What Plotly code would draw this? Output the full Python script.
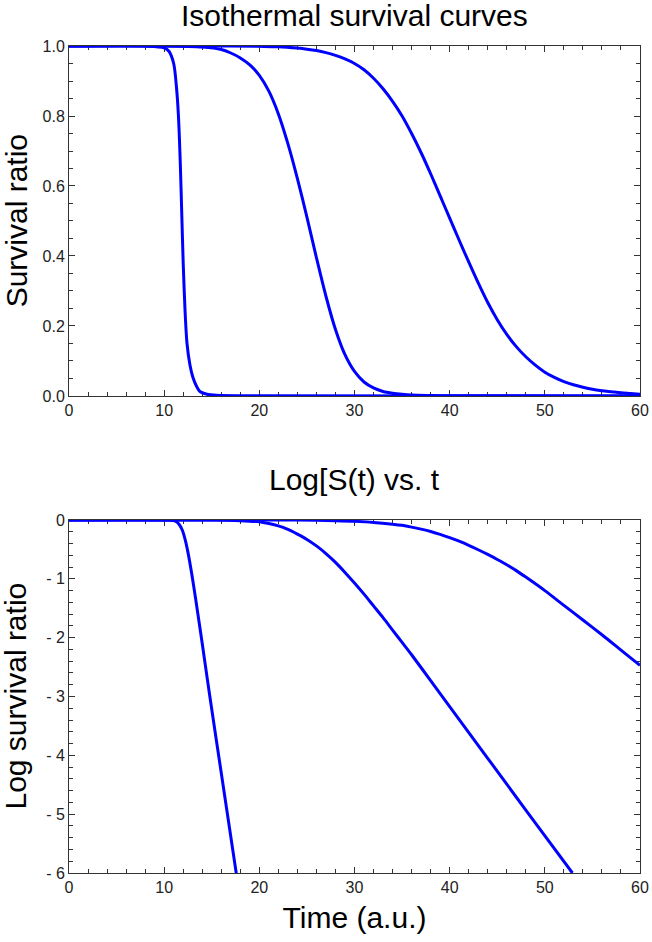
import plotly.graph_objects as go
from plotly.subplots import make_subplots

# survival ratio S(t)
t_fast = [0, 8, 10, 10.5, 11.0, 11.3, 11.5, 11.7, 11.85, 12.0, 12.2, 12.4, 12.7, 13.0, 13.4, 13.8, 14.5, 15.5, 20, 60]
s_fast = [1.0, 1.0, 0.995, 0.985, 0.95, 0.88, 0.80, 0.66, 0.52, 0.38, 0.24, 0.15, 0.09, 0.055, 0.028, 0.012, 0.005, 0.002, 0.0005, 0.0]

t_mid = [0, 10, 14, 16, 17, 18, 19, 20, 21, 22, 23, 24, 25, 26, 27, 28, 29, 30, 31, 32, 33, 34, 35, 36, 38, 40, 60]
s_mid = [1.0, 1.0, 0.997, 0.99, 0.98, 0.966, 0.946, 0.916, 0.871, 0.806, 0.721, 0.621, 0.511, 0.395, 0.285, 0.19, 0.118,
         0.07, 0.04, 0.023, 0.013, 0.008, 0.005, 0.003, 0.0015, 0.0005, 0.0]

t_slow = [0, 15, 20, 22, 24, 25, 26, 27, 28, 29, 30, 31, 32, 33, 34, 35, 36, 37, 38, 39, 40, 41, 42, 43, 44, 45,
          46, 47, 48, 49, 50, 51, 52, 53, 54, 55, 56, 57, 58, 59, 60]
s_slow = [1.0, 1.0, 0.999, 0.998, 0.994, 0.991, 0.987, 0.981, 0.973, 0.963, 0.95, 0.932, 0.908, 0.878, 0.842, 0.80,
          0.75, 0.695, 0.635, 0.572, 0.508, 0.445, 0.383, 0.323, 0.267, 0.218, 0.176, 0.141, 0.112, 0.088, 0.068,
          0.053, 0.041, 0.032, 0.025, 0.019, 0.015, 0.012, 0.009, 0.007, 0.005]

# log survival ratio
lt_fast = [0, 10, 11.0, 11.3, 11.6, 11.9, 12.2, 12.5, 12.8, 13.1, 13.5, 14.0, 14.8, 16.0, 17.6]
lg_fast = [0, 0, -0.01, -0.03, -0.08, -0.17, -0.33, -0.55, -0.82, -1.12, -1.55, -2.1, -3.0, -4.3, -6.03]

lt_mid = [0, 15, 18, 20, 21, 22, 23, 24, 25, 26, 27, 28, 29, 30, 31, 32, 33, 34, 35, 36, 38, 40, 44, 48, 52.9]
lg_mid = [0, 0, -0.01, -0.03, -0.06, -0.1, -0.16, -0.24, -0.33, -0.44, -0.57, -0.72, -0.89, -1.07, -1.26, -1.46,
          -1.66, -1.87, -2.08, -2.29, -2.73, -3.17, -4.05, -4.93, -6.0]

lt_slow = [0, 24, 26, 28, 30, 32, 34, 35, 36, 37, 38, 39, 40, 41, 42, 43, 44, 45, 46, 47, 48, 50, 52, 54, 56, 58, 60]
lg_slow = [0, 0, -0.005, -0.012, -0.022, -0.04, -0.07, -0.09, -0.12, -0.155, -0.195, -0.245, -0.30, -0.36, -0.43,
           -0.505, -0.585, -0.67, -0.76, -0.86, -0.97, -1.2, -1.45, -1.7, -1.95, -2.21, -2.47]

log_ticks = [0, -1, -2, -3, -4, -5, -6]
log_ticktext = ['0', '- 1', '- 2', '- 3', '- 4', '- 5', '- 6']

FONT = 'Liberation Sans, Arial, sans-serif'
BLUE = 'rgb(0,0,255)'
AXC = '#333'

fig = make_subplots(rows=2, cols=1, vertical_spacing=0.15)

for tt, ss in [(t_fast, s_fast), (t_mid, s_mid), (t_slow, s_slow)]:
    fig.add_trace(go.Scatter(x=tt, y=ss, mode='lines',
                             line=dict(color=BLUE, width=3, shape='spline', smoothing=0.8),
                             showlegend=False), row=1, col=1)
for tt, ss in [(lt_fast, lg_fast), (lt_mid, lg_mid), (lt_slow, lg_slow)]:
    fig.add_trace(go.Scatter(x=tt, y=ss, mode='lines',
                             line=dict(color=BLUE, width=3, shape='spline', smoothing=0.8),
                             showlegend=False), row=2, col=1)

axis_common = dict(showline=True, linecolor=AXC, linewidth=1, mirror='ticks',
                   ticks='inside', ticklen=6, tickcolor=AXC, tickwidth=1,
                   showgrid=False, zeroline=False, layer='below traces', automargin=False,
                   tickfont=dict(family=FONT, size=16, color='#222'))

fig.update_xaxes(range=[0, 60], dtick=10, tick0=0,
                 minor=dict(dtick=2, ticks='inside', ticklen=4, tickcolor=AXC, showgrid=False),
                 **axis_common)
fig.update_xaxes(title=dict(text='Time (a.u.)', font=dict(family=FONT, size=30, color='black'), standoff=11),
                 row=2, col=1)

fig.update_yaxes(range=[0, 1], dtick=0.2, tickformat='.1f',
                 minor=dict(dtick=0.05, ticks='inside', ticklen=4, tickcolor=AXC, showgrid=False),
                 row=1, col=1, **axis_common)
fig.update_yaxes(range=[-6, 0], tickvals=log_ticks, ticktext=log_ticktext,
                 minor=dict(dtick=0.2, tick0=0, ticks='inside', ticklen=4, tickcolor=AXC, showgrid=False),
                 row=2, col=1, **axis_common)

title_font = dict(family=FONT, size=30, color='black')

fig.update_layout(
    width=652, height=942,
    margin=dict(l=69, r=12, t=46, b=69),
    plot_bgcolor='white', paper_bgcolor='white',
    font=dict(family=FONT, color='black'),
    xaxis=dict(domain=[0, 1]), yaxis=dict(domain=[0.5768, 1]),
    xaxis2=dict(domain=[0, 1]), yaxis2=dict(domain=[0, 0.4268]),
    annotations=[
        dict(text='Isothermal survival curves', xref='paper', yref='paper', x=0.5, y=1.0363,
             xanchor='center', yanchor='middle', showarrow=False, font=title_font),
        dict(text='Log[S(t) vs. t', xref='paper', yref='paper', x=0.5, y=0.476,
             xanchor='center', yanchor='middle', showarrow=False, font=title_font),
        # y-axis titles as annotations so they can sit closer to the page edge
        dict(text='Survival ratio', xref='paper', yref='paper', x=-0.0928, y=0.788,
             xanchor='center', yanchor='middle', textangle=-90, showarrow=False, font=title_font),
        dict(text='Log survival ratio', xref='paper', yref='paper', x=-0.0928, y=0.2134,
             xanchor='center', yanchor='middle', textangle=-90, showarrow=False, font=title_font),
    ],
)

# drop the page's default body margin so the figure sits at the window's corner
fig.write_html("out.html", config={'displayModeBar': False},
               post_script="document.body.style.margin='0';")
